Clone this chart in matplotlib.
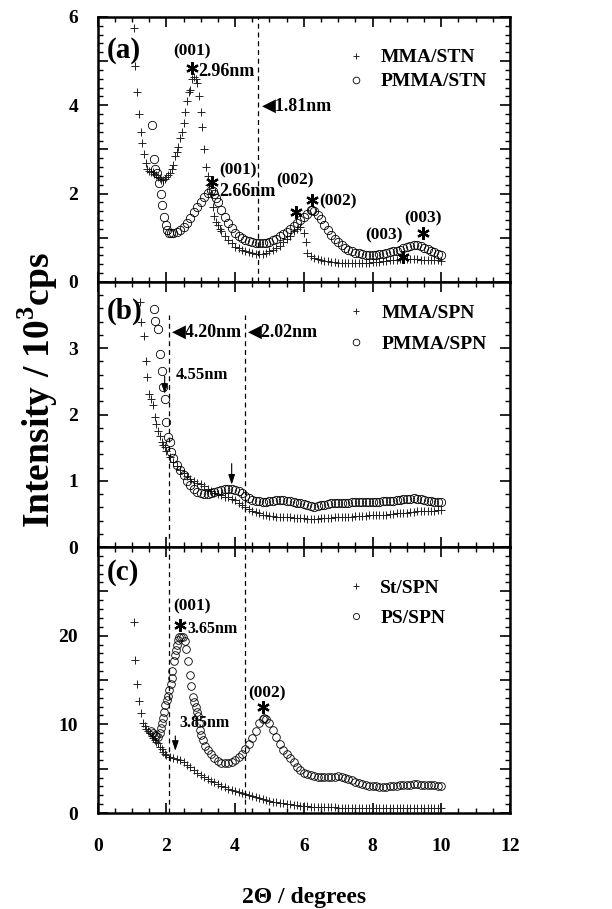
import numpy as np
import matplotlib
matplotlib.use('Agg')
import matplotlib.pyplot as plt
from matplotlib.ticker import MultipleLocator, FuncFormatter

plt.rcParams['font.family'] = ['Liberation Serif', 'DejaVu Sans']
plt.rcParams['font.weight'] = 'bold'
plt.rcParams['mathtext.fontset'] = 'custom'
plt.rcParams['mathtext.rm'] = 'Liberation Serif:bold'
plt.rcParams['mathtext.bf'] = 'Liberation Serif:bold'

### panel (a): MMA/STN (+) and PMMA/STN (o)
a_mma_x = [1.05, 1.10, 1.15, 1.20, 1.25, 1.30, 1.35, 1.40, 1.45, 1.50, 1.55, 1.60, 1.65, 1.70,
           1.75, 1.80, 1.85, 1.90, 1.95, 2.00, 2.05, 2.10, 2.15, 2.20, 2.25, 2.30, 2.35, 2.40,
           2.45, 2.50, 2.55, 2.60, 2.65, 2.70, 2.75, 2.80, 2.85, 2.90, 2.95, 3.00, 3.05, 3.10,
           3.15, 3.20, 3.25, 3.30, 3.35, 3.40, 3.45, 3.50, 3.55, 3.60, 3.7, 3.8, 3.9, 4.0, 4.1,
           4.2, 4.3, 4.4, 4.5, 4.6, 4.7, 4.8, 4.9, 5.0, 5.1, 5.2, 5.3, 5.4, 5.5, 5.6, 5.7, 5.8,
           5.9, 6.0, 6.05, 6.1, 6.2, 6.3, 6.4, 6.5, 6.6, 6.7, 6.8, 6.9, 7.0, 7.1, 7.2, 7.3, 7.4,
           7.5, 7.6, 7.7, 7.8, 7.9, 8.0, 8.1, 8.2, 8.3, 8.4, 8.5, 8.6, 8.7, 8.8, 8.9, 9.0, 9.1,
           9.2, 9.3, 9.4, 9.5, 9.6, 9.7, 9.8, 9.9, 10.0]
a_mma_y = [5.75, 4.9, 4.3, 3.8, 3.4, 3.15, 2.9, 2.7, 2.55, 2.52, 2.5, 2.48, 2.45, 2.42,
           2.38, 2.35, 2.32, 2.30, 2.33, 2.38, 2.42, 2.46, 2.55, 2.65, 2.85, 2.95, 3.05, 3.25,
           3.4, 3.6, 3.85, 4.1, 4.3, 4.35, 4.6, 4.65, 4.6, 4.5, 4.2, 3.85, 3.5, 3.0,
           2.6, 2.4, 2.2, 2.0, 1.7, 1.5, 1.35, 1.3, 1.2, 1.15, 1.05, 0.95, 0.88, 0.80, 0.76,
           0.72, 0.69, 0.67, 0.65, 0.63, 0.63, 0.64, 0.66, 0.69, 0.73, 0.78, 0.82, 0.9, 0.98, 1.05, 1.15, 1.2,
           1.25, 1.1, 0.9, 0.65, 0.58, 0.54, 0.52, 0.5, 0.48, 0.47, 0.46, 0.45, 0.44, 0.43, 0.43, 0.42, 0.42,
           0.42, 0.42, 0.43, 0.43, 0.44, 0.45, 0.46, 0.46, 0.47, 0.48, 0.49, 0.5, 0.5, 0.51, 0.52, 0.52, 0.52,
           0.52, 0.51, 0.5, 0.5, 0.5, 0.49, 0.49, 0.49, 0.48]

a_pmma_x = [1.58, 1.63, 1.68, 1.73, 1.78, 1.83, 1.88, 1.93, 1.98, 2.03, 2.08, 2.13, 2.2, 2.3,
            2.4, 2.5, 2.6, 2.7, 2.8, 2.9, 3.0, 3.1, 3.2, 3.3, 3.35, 3.4, 3.45, 3.5, 3.6, 3.7,
            3.8, 3.9, 4.0, 4.1, 4.2, 4.3, 4.4, 4.5, 4.6, 4.7, 4.8, 4.9, 5.0, 5.1, 5.2, 5.3,
            5.4, 5.5, 5.6, 5.7, 5.8, 5.9, 6.0, 6.1, 6.2, 6.25, 6.3, 6.4, 6.5, 6.6, 6.7, 6.8,
            6.9, 7.0, 7.1, 7.2, 7.3, 7.4, 7.5, 7.6, 7.7, 7.8, 7.9, 8.0, 8.1, 8.2, 8.3, 8.4,
            8.5, 8.6, 8.7, 8.8, 8.9, 9.0, 9.1, 9.2, 9.3, 9.4, 9.5, 9.6, 9.7, 9.8, 9.9, 10.0]
a_pmma_y = [3.55, 2.78, 2.55, 2.47, 2.25, 2.0, 1.74, 1.48, 1.3, 1.18, 1.12, 1.1, 1.1, 1.13,
            1.18, 1.25, 1.33, 1.45, 1.58, 1.7, 1.8, 1.92, 2.02, 2.08, 2.06, 2.0, 1.9, 1.82, 1.62, 1.48,
            1.33, 1.22, 1.12, 1.05, 0.99, 0.95, 0.92, 0.90, 0.88, 0.88, 0.88, 0.89, 0.91, 0.94, 0.98, 1.03,
            1.08, 1.14, 1.2, 1.27, 1.33, 1.4, 1.48, 1.55, 1.62, 1.63, 1.6, 1.52, 1.42, 1.3, 1.17, 1.06,
            0.97, 0.9, 0.83, 0.77, 0.73, 0.69, 0.66, 0.65, 0.63, 0.62, 0.61, 0.61, 0.62, 0.63, 0.64, 0.65,
            0.67, 0.69, 0.71, 0.73, 0.76, 0.79, 0.82, 0.84, 0.84, 0.82, 0.78, 0.74, 0.71, 0.68, 0.64, 0.6]

### panel (b): MMA/SPN (+) and PMMA/SPN (o)
b_mma_x = [1.23, 1.27, 1.34, 1.42, 1.45, 1.50, 1.56, 1.61, 1.66, 1.71, 1.76, 1.81, 1.86, 1.90,
           1.95, 2.0, 2.1, 2.2, 2.3, 2.4, 2.5, 2.6, 2.7, 2.8, 2.9, 3.0, 3.1, 3.2, 3.3, 3.4, 3.5,
           3.6, 3.7, 3.8, 3.9, 4.0, 4.1, 4.2, 4.3, 4.4, 4.5, 4.6, 4.7, 4.8, 4.9, 5.0, 5.1, 5.2,
           5.3, 5.4, 5.5, 5.6, 5.7, 5.8, 5.9, 6.0, 6.1, 6.2, 6.3, 6.4, 6.5, 6.6, 6.7, 6.8, 6.9,
           7.0, 7.1, 7.2, 7.3, 7.4, 7.5, 7.6, 7.7, 7.8, 7.9, 8.0, 8.1, 8.2, 8.3, 8.4, 8.5, 8.6,
           8.7, 8.8, 8.9, 9.0, 9.1, 9.2, 9.3, 9.4, 9.5, 9.6, 9.7, 9.8, 9.9, 10.0]
b_mma_y = [3.70, 3.39, 3.19, 2.81, 2.56, 2.31, 2.24, 2.14, 1.96, 1.86, 1.75, 1.68, 1.58, 1.54,
           1.51, 1.45, 1.36, 1.29, 1.22, 1.16, 1.11, 1.07, 1.03, 1.00, 0.97, 0.95, 0.92, 0.88, 0.84, 0.82, 0.80,
           0.78, 0.76, 0.75, 0.73, 0.71, 0.67, 0.64, 0.61, 0.58, 0.55, 0.53, 0.51, 0.49, 0.48, 0.47, 0.47, 0.46,
           0.46, 0.46, 0.45, 0.45, 0.44, 0.44, 0.44, 0.44, 0.43, 0.43, 0.43, 0.43, 0.44, 0.44, 0.44, 0.44, 0.45,
           0.45, 0.45, 0.46, 0.46, 0.46, 0.47, 0.47, 0.47, 0.47, 0.48, 0.48, 0.48, 0.48, 0.49, 0.49, 0.5, 0.5,
           0.51, 0.51, 0.52, 0.52, 0.53, 0.53, 0.54, 0.54, 0.55, 0.55, 0.55, 0.55, 0.56, 0.56]

b_pmma_x = [1.63, 1.68, 1.76, 1.81, 1.86, 1.90, 1.95, 2.0, 2.05, 2.10, 2.14, 2.2, 2.3, 2.4, 2.5,
            2.6, 2.7, 2.8, 2.9, 3.0, 3.1, 3.2, 3.3, 3.4, 3.5, 3.6, 3.7, 3.8, 3.9, 4.0, 4.1, 4.2,
            4.3, 4.4, 4.5, 4.6, 4.7, 4.8, 4.9, 5.0, 5.1, 5.2, 5.3, 5.4, 5.5, 5.6, 5.7, 5.8, 5.9,
            6.0, 6.1, 6.2, 6.3, 6.4, 6.5, 6.6, 6.7, 6.8, 6.9, 7.0, 7.1, 7.2, 7.3, 7.4, 7.5, 7.6,
            7.7, 7.8, 7.9, 8.0, 8.1, 8.2, 8.3, 8.4, 8.5, 8.6, 8.7, 8.8, 8.9, 9.0, 9.1, 9.2, 9.3,
            9.4, 9.5, 9.6, 9.7, 9.8, 9.9, 10.0]
b_pmma_y = [3.59, 3.41, 3.29, 2.91, 2.66, 2.41, 2.23, 1.89, 1.66, 1.58, 1.43, 1.35, 1.24, 1.16, 1.08,
            1.0, 0.93, 0.87, 0.83, 0.81, 0.80, 0.80, 0.81, 0.83, 0.85, 0.86, 0.87, 0.87, 0.87, 0.86, 0.84, 0.81,
            0.77, 0.74, 0.71, 0.70, 0.69, 0.68, 0.68, 0.69, 0.70, 0.71, 0.71, 0.71, 0.70, 0.69, 0.68, 0.67, 0.66,
            0.65, 0.63, 0.62, 0.61, 0.62, 0.63, 0.64, 0.65, 0.66, 0.66, 0.67, 0.67, 0.67, 0.67, 0.68, 0.68, 0.68,
            0.68, 0.68, 0.68, 0.68, 0.68, 0.68, 0.69, 0.69, 0.70, 0.70, 0.71, 0.71, 0.72, 0.73, 0.73, 0.74, 0.73,
            0.72, 0.71, 0.70, 0.69, 0.68, 0.68, 0.68]

### panel (c): St/SPN (+) and PS/SPN (o)
c_st_x = [1.06, 1.08, 1.15, 1.21, 1.27, 1.32, 1.37, 1.42, 1.47, 1.52, 1.57, 1.61, 1.66, 1.71,
          1.76, 1.81, 1.86, 1.90, 1.95, 2.0, 2.1, 2.2, 2.3, 2.4, 2.5, 2.6, 2.7, 2.8, 2.9, 3.0,
          3.1, 3.2, 3.3, 3.4, 3.5, 3.6, 3.7, 3.8, 3.9, 4.0, 4.1, 4.2, 4.3, 4.4, 4.5, 4.6, 4.7,
          4.8, 4.9, 5.0, 5.1, 5.2, 5.3, 5.4, 5.5, 5.6, 5.7, 5.8, 5.9, 6.0, 6.1, 6.2, 6.3, 6.4,
          6.5, 6.6, 6.7, 6.8, 6.9, 7.0, 7.1, 7.2, 7.3, 7.4, 7.5, 7.6, 7.7, 7.8, 7.9, 8.0, 8.1,
          8.2, 8.3, 8.4, 8.5, 8.6, 8.7, 8.8, 8.9, 9.0, 9.1, 9.2, 9.3, 9.4, 9.5, 9.6, 9.7, 9.8,
          9.9, 10.0]
c_st_y = [21.6, 17.3, 14.6, 12.6, 11.3, 10.2, 9.8, 9.45, 9.2, 9.0, 8.7, 8.44, 8.2, 8.0,
          7.87, 7.5, 7.2, 6.93, 6.7, 6.55, 6.36, 6.2, 6.1, 5.99, 5.75, 5.45, 5.15, 4.85, 4.5, 4.25,
          4.05, 3.85, 3.65, 3.45, 3.25, 3.05, 2.9, 2.75, 2.62, 2.5, 2.35, 2.22, 2.1, 2.0, 1.9, 1.78, 1.67,
          1.57, 1.47, 1.38, 1.29, 1.22, 1.15, 1.09, 1.03, 0.97, 0.92, 0.87, 0.82, 0.79, 0.76, 0.73, 0.71, 0.69,
          0.67, 0.66, 0.65, 0.64, 0.63, 0.62, 0.61, 0.60, 0.59, 0.58, 0.57, 0.56, 0.55, 0.55, 0.54, 0.54, 0.53,
          0.53, 0.53, 0.52, 0.52, 0.52, 0.52, 0.52, 0.52, 0.52, 0.53, 0.53, 0.53, 0.54, 0.54, 0.54, 0.55, 0.55,
          0.55, 0.56]

c_ps_x = [1.56, 1.61, 1.66, 1.71, 1.76, 1.80, 1.83, 1.87, 1.90, 1.94, 1.97, 2.01, 2.05, 2.09,
          2.12, 2.15, 2.17, 2.21, 2.24, 2.27, 2.31, 2.34, 2.38, 2.43, 2.48, 2.53, 2.58, 2.63,
          2.68, 2.72, 2.77, 2.81, 2.85, 2.89, 2.92, 2.95, 2.97, 3.02, 3.06, 3.13, 3.21, 3.30,
          3.40, 3.5, 3.6, 3.7, 3.8, 3.9, 4.0, 4.1, 4.2, 4.3, 4.4, 4.5, 4.6, 4.7, 4.8, 4.85,
          4.9, 5.0, 5.1, 5.2, 5.3, 5.4, 5.5, 5.6, 5.7, 5.8, 5.9, 6.0, 6.1, 6.2, 6.3, 6.4, 6.5,
          6.6, 6.7, 6.8, 6.9, 7.0, 7.1, 7.2, 7.3, 7.4, 7.5, 7.6, 7.7, 7.8, 7.9, 8.0, 8.1, 8.2,
          8.3, 8.4, 8.5, 8.6, 8.7, 8.8, 8.9, 9.0, 9.1, 9.2, 9.3, 9.4, 9.5, 9.6, 9.7, 9.8, 9.9, 10.0]
c_ps_y = [9.2, 9.0, 8.8, 8.65, 8.6, 9.0, 9.55, 10.1, 10.7, 11.4, 12.2, 12.7, 13.2, 13.9,
          14.5, 15.2, 16.0, 17.1, 17.8, 18.4, 19.0, 19.5, 19.8, 19.9, 19.8, 19.4, 18.5, 17.1,
          15.6, 14.35, 13.1, 12.5, 12.0, 11.4, 10.9, 10.1, 9.4, 8.8, 8.25, 7.6, 7.1, 6.6,
          6.2, 5.85, 5.65, 5.6, 5.65, 5.75, 5.95, 6.3, 6.7, 7.2, 7.8, 8.5, 9.3, 10.1, 10.6, 10.7,
          10.6, 10.1, 9.4, 8.6, 7.8, 7.15, 6.6, 6.15, 5.7, 5.2, 4.8, 4.55, 4.35, 4.25, 4.15, 4.1, 4.1,
          4.05, 4.05, 4.1, 4.1, 4.15, 4.1, 4.0, 3.85, 3.7, 3.55, 3.4, 3.25, 3.15, 3.1, 3.05, 3.0, 2.95,
          2.95, 2.97, 3.0, 3.05, 3.08, 3.12, 3.15, 3.18, 3.2, 3.22, 3.22, 3.2, 3.18, 3.16, 3.15, 3.12, 3.1, 3.05]

### annotation text and peak markers (data coordinates)
a_texts = [(0.27, 5.25, '(a)', 21), (2.75, 5.21, '(001)', 12.5), (2.92, 4.76, '2.96nm', 13),
           (4.78, 3.98, '\u25c01.81nm', 13), (3.55, 2.53, '(001)', 12.5), (3.55, 2.04, '2.66nm', 13),
           (5.19, 2.31, '(002)', 12.5), (6.44, 1.82, '(002)', 12.5), (7.8, 1.06, '(003)', 12.5),
           (8.91, 1.44, '(003)', 12.5)]
a_stars = [(2.75, 4.85), (3.32, 2.27), (5.77, 1.59), (6.25, 1.86), (8.9, 0.57), (9.46, 1.10)]
b_texts = [(0.27, 3.55, '(b)', 21), (2.17, 3.24, '\u25c04.20nm', 13), (4.37, 3.24, '\u25c02.02nm', 13),
           (2.27, 2.6, '4.55nm', 12)]
b_arrows = [(1.95, 2.62, 2.27), (3.90, 1.30, 0.90)]
c_texts = [(0.27, 27.1, '(c)', 21), (2.75, 23.3, '(001)', 12.5), (2.61, 20.7, '3.65nm', 11.5),
           (4.92, 13.45, '(002)', 12.5), (2.39, 10.1, '3.85nm', 11.5)]
c_stars = [(2.40, 21.2), (4.80, 12.0)]
c_arrows = [(2.26, 9.0, 6.7)]

fig = plt.figure(figsize=(6.12, 9.09), dpi=100)
left, width = 0.1596, 0.6737
axA = fig.add_axes([left, 0.6898, width, 0.2915])
axB = fig.add_axes([left, 0.3982, width, 0.2916])
axC = fig.add_axes([left, 0.1056, width, 0.2926])

def style(ax, ymax, ymajor, yminor, shown):
    ax.set_xlim(0, 12)
    ax.set_ylim(0, ymax)
    ax.xaxis.set_major_locator(MultipleLocator(2))
    ax.xaxis.set_minor_locator(MultipleLocator(0.5))
    ax.yaxis.set_major_locator(MultipleLocator(ymajor))
    ax.yaxis.set_minor_locator(MultipleLocator(yminor))
    ax.yaxis.set_major_formatter(FuncFormatter(
        lambda v, p: '%d' % round(v) if round(v) in shown else ''))
    ax.tick_params(which='both', direction='in', top=True, right=True)
    ax.tick_params(which='major', length=7, width=1.2, labelsize=14, pad=14)
    ax.tick_params(which='minor', length=3.5, width=1.0)
    ax.tick_params(axis='x', pad=18)
    for s in ax.spines.values():
        s.set_linewidth(1.8)

style(axA, 6, 1, 0.2, [0, 2, 4, 6])
style(axB, 4, 1, 0.2, [0, 1, 2, 3])
style(axC, 30, 5, 1, [0, 10, 20])
axA.tick_params(axis='x', labelbottom=False)
axB.tick_params(axis='x', labelbottom=False)

plus_kw = dict(ls='none', marker='+', ms=6, mew=0.7, color='#222222')
circ_kw = dict(ls='none', marker='o', mew=0.6, mfc='none', mec='k')

axA.plot(a_mma_x, a_mma_y, label='MMA/STN', **plus_kw)
axA.plot(a_pmma_x, a_pmma_y, label='PMMA/STN', ms=6, **circ_kw)
axB.plot(b_mma_x, b_mma_y, label='MMA/SPN', **plus_kw)
axB.plot(b_pmma_x, b_pmma_y, label='PMMA/SPN', ms=6, **circ_kw)
axC.plot(c_st_x, c_st_y, label='St/SPN', **plus_kw)
axC.plot(c_ps_x, c_ps_y, label='PS/SPN', ms=5.5, **circ_kw)

# dashed guide lines
dash = dict(color='k', lw=0.9, ls=(0, (4, 3)))
axA.axvline(4.66, **dash)
axB.plot([2.08, 2.08], [0, 3.5], **dash)
axB.plot([4.28, 4.28], [0, 3.5], **dash)
axC.axvline(2.08, **dash)
axC.axvline(4.28, **dash)

for ax, texts in [(axA, a_texts), (axB, b_texts), (axC, c_texts)]:
    for x, y, s, fs in texts:
        ha = 'center' if s.startswith('(0') and ax is not axA else 'left'
        if ax is axA and s == '(001)' and x < 3:
            ha = 'center'
        ax.text(x, y, s, fontsize=fs, ha=ha, va='center', fontweight='bold')

for ax, stars in [(axA, a_stars), (axC, c_stars)]:
    for x, y in stars:
        ax.plot(x, y, ls='none', marker=(6, 2, 0), ms=9, mew=1.6, color='k')

for ax, arrows in [(axB, b_arrows), (axC, c_arrows)]:
    for x, y0, y1 in arrows:
        ax.annotate('', xy=(x, y1), xytext=(x, y0),
                    arrowprops=dict(arrowstyle='-|>,head_length=0.6,head_width=0.2',
                                    color='k', lw=0.8))

leg_font = dict(size=14, weight='bold')
axA.legend(loc='upper left', bbox_to_anchor=(0.603, 0.88), frameon=False, prop=leg_font,
           handlelength=1.0, handletextpad=0.75, borderpad=0, borderaxespad=0, labelspacing=0.33,
           markerscale=0.8)
axB.legend(loc='upper left', bbox_to_anchor=(0.603, 0.917), frameon=False, prop=leg_font,
           handlelength=1.0, handletextpad=0.8, borderpad=0, borderaxespad=0, labelspacing=0.7,
           markerscale=0.8)
axC.legend(loc='upper left', bbox_to_anchor=(0.603, 0.88), frameon=False, prop=leg_font,
           handlelength=1.0, handletextpad=0.75, borderpad=0, borderaxespad=0, labelspacing=0.65,
           markerscale=0.8)

fig.text(0.062, 1 - 390 / 909, r'Intensity / 10$^{3}$cps', rotation=90, fontsize=27,
         ha='center', va='center', fontweight='bold')
fig.text(0.497, 1 - 897 / 909, '2\u0398 / degrees', fontsize=17, ha='center', va='center',
         fontweight='bold')

fig.savefig('out.png', dpi=100)
